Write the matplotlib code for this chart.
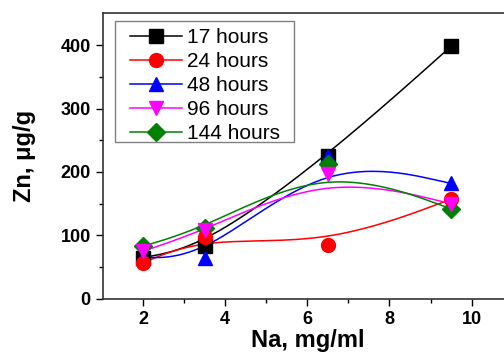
import numpy as np
import matplotlib
matplotlib.use("Agg")
import matplotlib.pyplot as plt
from matplotlib.lines import Line2D
from matplotlib.patches import Rectangle

plt.rcParams['font.family'] = ['Liberation Sans', 'DejaVu Sans']

# данные
na = [2, 3.5, 6.5, 9.5]
labels = ["17 hours", "24 hours", "48 hours", "96 hours", "144 hours"]
zn_17 = [65, 83, 225, 398]
zn_24 = [57, 97, 85, 157]
zn_48 = [65, 65, 225, 182]
zn_96 = [75, 108, 197, 150]
zn_144 = [83, 112, 212, 142]

series = [zn_17, zn_24, zn_48, zn_96, zn_144]
colors = ["black", "red", "blue", "magenta", "green"]
markers = ["s", "o", "^", "v", "D"]
msizes = [9.5, 10, 10.5, 10.5, 9]
zorders = [3, 6, 4, 7, 5]


# B-сплайн как в Origin: равномерный кубический, крайние точки повторены
def bspline(xs, ys, n=60):
    p = np.column_stack([xs, ys]).astype(float)
    p = np.vstack([p[:1], p[:1], p, p[-1:], p[-1:]])
    t = np.linspace(0, 1, n)[:, None]
    b = np.hstack([(1 - t) ** 3, 3 * t ** 3 - 6 * t ** 2 + 4,
                   -3 * t ** 3 + 3 * t ** 2 + 3 * t + 1, t ** 3]) / 6
    pts = np.vstack([b @ p[i:i + 4] for i in range(len(p) - 3)])
    return pts[:, 0], pts[:, 1]


fig = plt.figure(figsize=(5.04, 3.52), dpi=100)
ax = fig.add_axes([0.205, 0.151, 0.795, 0.811])

for ys, c, m, ms, z in zip(series, colors, markers, msizes, zorders):
    bx, by = bspline(na, ys)
    ax.plot(bx, by, color=c, lw=1.1, zorder=2)
    ax.plot(na, ys, ls="none", marker=m, ms=ms, color=c, mec=c, zorder=z)

# легенда: рамка рисуется отдельно, чтобы задать отступы
handles = [Line2D([], [], color=c, lw=1.1, marker=m, ms=ms, mec=c)
           for c, m, ms in zip(colors, markers, msizes)]
ax.legend(handles, labels, loc="upper left", bbox_to_anchor=(0.066, 0.948),
          borderaxespad=0, borderpad=0, fontsize=15, handlelength=2.5,
          handletextpad=0.27, labelspacing=0.24, frameon=False)
ax.add_patch(Rectangle((0.029, 0.550), 0.4475, 0.424, transform=ax.transAxes,
                       fill=False, ec="#808080", lw=1.0, zorder=8))

ax.set_xlim(1.03, 10.79)
ax.set_ylim(0, 450)
ax.set_xticks([2, 4, 6, 8, 10])
ax.set_xticks([3, 5, 7, 9], minor=True)
ax.set_yticks([0, 100, 200, 300, 400])
ax.set_yticks([50, 150, 250, 350], minor=True)
ax.tick_params(which="major", direction="out", length=5, width=1, labelsize=13, pad=4)
ax.tick_params(which="minor", direction="out", length=3, width=1)
for lab in ax.get_xticklabels() + ax.get_yticklabels():
    lab.set_fontweight("bold")
ax.spines["right"].set_visible(False)
for s in ["left", "bottom", "top"]:
    ax.spines[s].set_linewidth(1.2)
    ax.spines[s].set_color("#333333")

ax.set_xlabel("Na, mg/ml", fontsize=17, fontweight="bold")
ax.xaxis.label.set_va("baseline")
ax.xaxis.set_label_coords(0.51, -0.169)
ax.set_ylabel("Zn, μg/g", fontsize=17, fontweight="bold", labelpad=18)

plt.savefig("out.png", dpi=100)
